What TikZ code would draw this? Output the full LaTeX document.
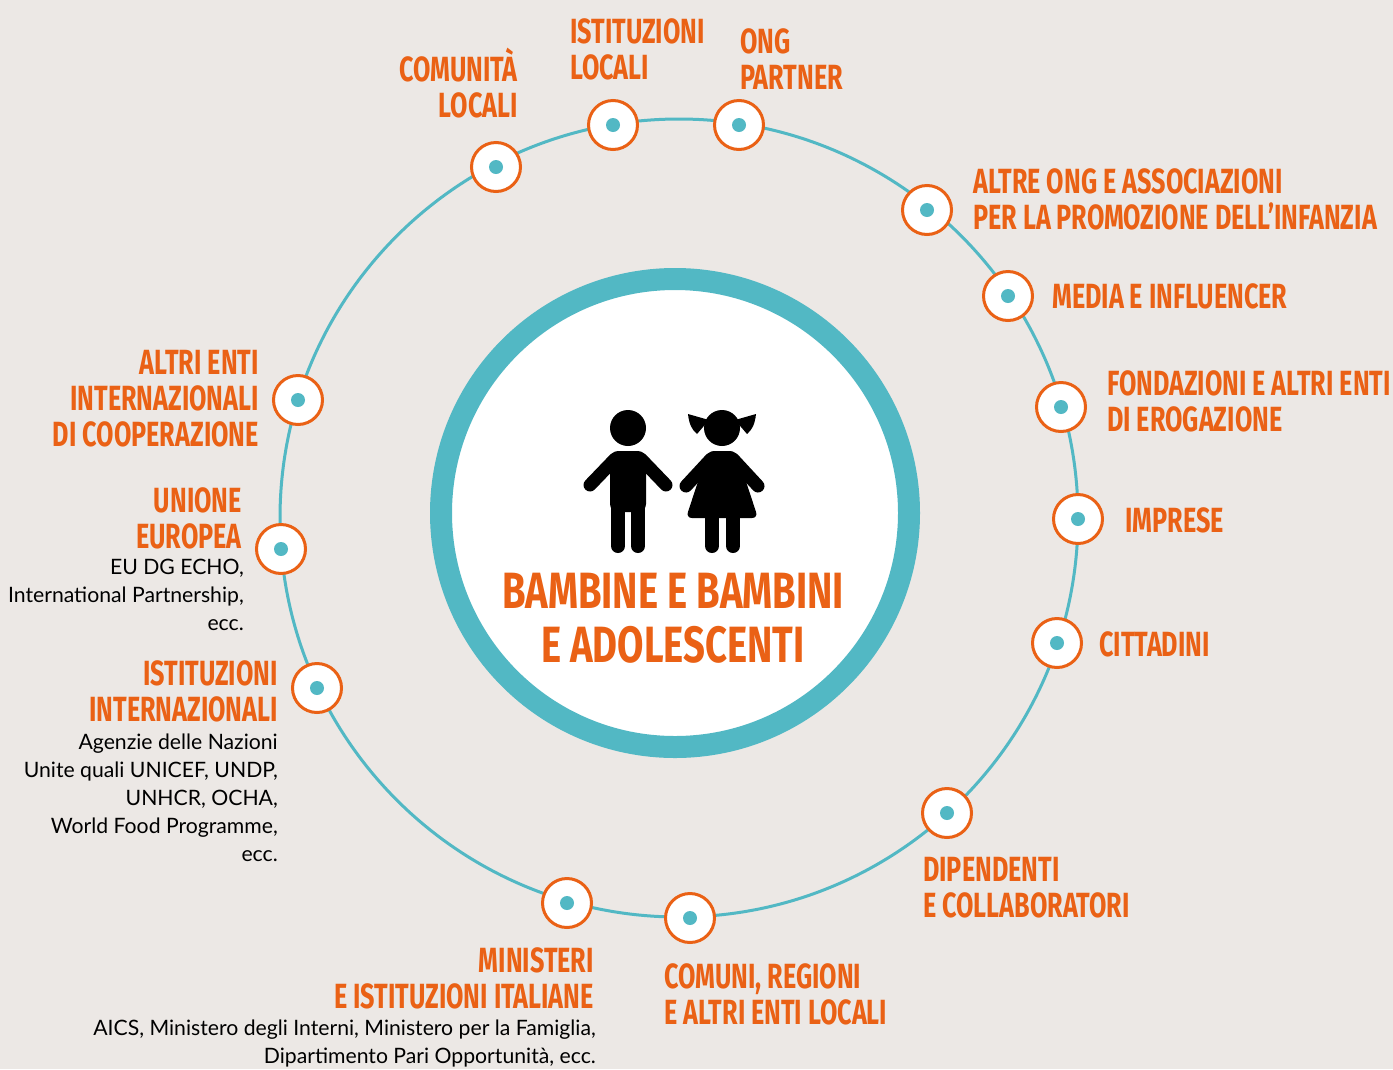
\documentclass[tikz,border=0pt]{standalone}
\usepackage{fontspec}
\newfontfamily\headfont[FakeStretch=0.72]{Fira Sans}
\newfontfamily\kidsfont[FakeStretch=0.75]{Fira Sans}
\newfontfamily\notefont{Lato}
\definecolor{orng}{HTML}{EA6115}
\definecolor{teal1}{HTML}{52B8C4}
\definecolor{paper}{HTML}{ECE8E5}
\begin{document}
\begin{tikzpicture}[x=1pt,y=-1pt,
    marker/.style={circle,draw=orng,line width=3pt,fill=white,minimum size=49pt,inner sep=0pt,
      path picture={\fill[teal1] (path picture bounding box.center) circle (7pt);}},
    head/.style={text=orng,inner sep=0pt,font=\headfont\bfseries\fontsize{35}{36}\selectfont},
    note/.style={text=black,inner sep=0pt,align=right,font=\notefont\fontsize{21.2}{28}\selectfont},
    limb/.style={line width=13pt,line cap=round}]
    \fill[paper] (0,0) rectangle (1393,1069);
    \useasboundingbox (0,0) rectangle (1393,1069);
    \draw[teal1,line width=3pt] (679,518) circle (399);
    \draw[teal1,line width=22pt,fill=white] (675,513) circle (234);
    % boy
    \fill (628,428) circle (18);
    \fill[rounded corners=8pt] (610,451) rectangle (646,512);
    \draw[limb] (615,459) -- (590,485);
    \draw[limb] (641,459) -- (666,485);
    \draw[line width=14pt,line cap=round] (618,500) -- (618,546);
    \draw[line width=14pt,line cap=round] (638,500) -- (638,546);
    % girl
    \fill (722,428) circle (18);
    \fill (709,420) -- (688,414) .. controls (689,424) and (692,430) .. (697,434) -- cycle;
    \fill (735,420) -- (756,414) .. controls (755,424) and (752,430) .. (747,434) -- cycle;
    \fill[rounded corners=6pt] (708,451) -- (736,451) -- (758,518) -- (686,518) -- cycle;
    \draw[limb] (711,459) -- (686,486);
    \draw[limb] (733,459) -- (758,486);
    \draw[line width=14pt,line cap=round] (712,510) -- (712,546);
    \draw[line width=14pt,line cap=round] (733,510) -- (733,546);
    \node[text=orng,inner sep=0pt,align=center,anchor=north,
      font=\kidsfont\bfseries\fontsize{51}{54}\selectfont] (kids) at (673,573)
      {BAMBINE E BAMBINI\\E ADOLESCENTI};
    % markers
    \node[marker] (comunita) at (496,167) {};
    \node[marker] (istloc) at (613,125) {};
    \node[marker] (ong) at (739,125) {};
    \node[marker] (altreong) at (927,210) {};
    \node[marker] (media) at (1008,296) {};
    \node[marker] (fond) at (1061,407) {};
    \node[marker] (imprese) at (1078,519) {};
    \node[marker] (citt) at (1057,643) {};
    \node[marker] (dip) at (947,813) {};
    \node[marker] (comuni) at (690,918) {};
    \node[marker] (minist) at (567,903) {};
    \node[marker] (istint) at (317,688) {};
    \node[marker] (ue) at (281,549) {};
    \node[marker] (altrienti) at (298,400) {};
    % labels
    \node[head,align=right,anchor=south east] (comunita-l) at (518,118) {COMUNITÀ\\LOCALI};
    \node[head,align=left,anchor=north west] (istloc-l) at (570,18) {ISTITUZIONI\\LOCALI};
    \node[head,align=left,anchor=north west] (ong-l) at (740,28) {ONG\\PARTNER};
    \node[head,align=left,anchor=north west] (altreong-l) at (973,168)
      {ALTRE ONG E ASSOCIAZIONI\\PER LA PROMOZIONE DELL’INFANZIA};
    \node[head,anchor=north west] (media-l) at (1052,283) {MEDIA E INFLUENCER};
    \node[head,align=left,anchor=north west] (fond-l) at (1107,370)
      {FONDAZIONI E ALTRI ENTI\\DI EROGAZIONE};
    \node[head,anchor=north west] (imprese-l) at (1125,507) {IMPRESE};
    \node[head,anchor=north west] (citt-l) at (1099,631) {CITTADINI};
    \node[head,align=left,anchor=north west] (dip-l) at (923,857) {DIPENDENTI\\E COLLABORATORI};
    \node[head,align=left,anchor=north west] (comuni-l) at (664,963) {COMUNI, REGIONI\\E ALTRI ENTI LOCALI};
    \node[head,align=right,anchor=north east] (minist-l) at (594,947) {MINISTERI\\E ISTITUZIONI ITALIANE};
    \node[note,anchor=north east] (minist-n) at (596,1020)
      {AICS, Ministero degli Interni, Ministero per la Famiglia,\\Dipartimento Pari Opportunità, ecc.};
    \node[head,align=right,anchor=north east] (istint-l) at (278,660) {ISTITUZIONI\\INTERNAZIONALI};
    \node[note,anchor=north east] (istint-n) at (278,734)
      {Agenzie delle Nazioni\\Unite quali UNICEF, UNDP,\\UNHCR, OCHA,\\World Food Programme,\\ecc.};
    \node[head,align=right,anchor=north east] (ue-l) at (242,487) {UNIONE\\EUROPEA};
    \node[note,anchor=north east] (ue-n) at (244,559)
      {EU DG ECHO,\\International Partnership,\\ecc.};
    \node[head,align=right,anchor=north east] (altrienti-l) at (259,350)
      {ALTRI ENTI\\INTERNAZIONALI\\DI COOPERAZIONE};
\end{tikzpicture}
\end{document}
